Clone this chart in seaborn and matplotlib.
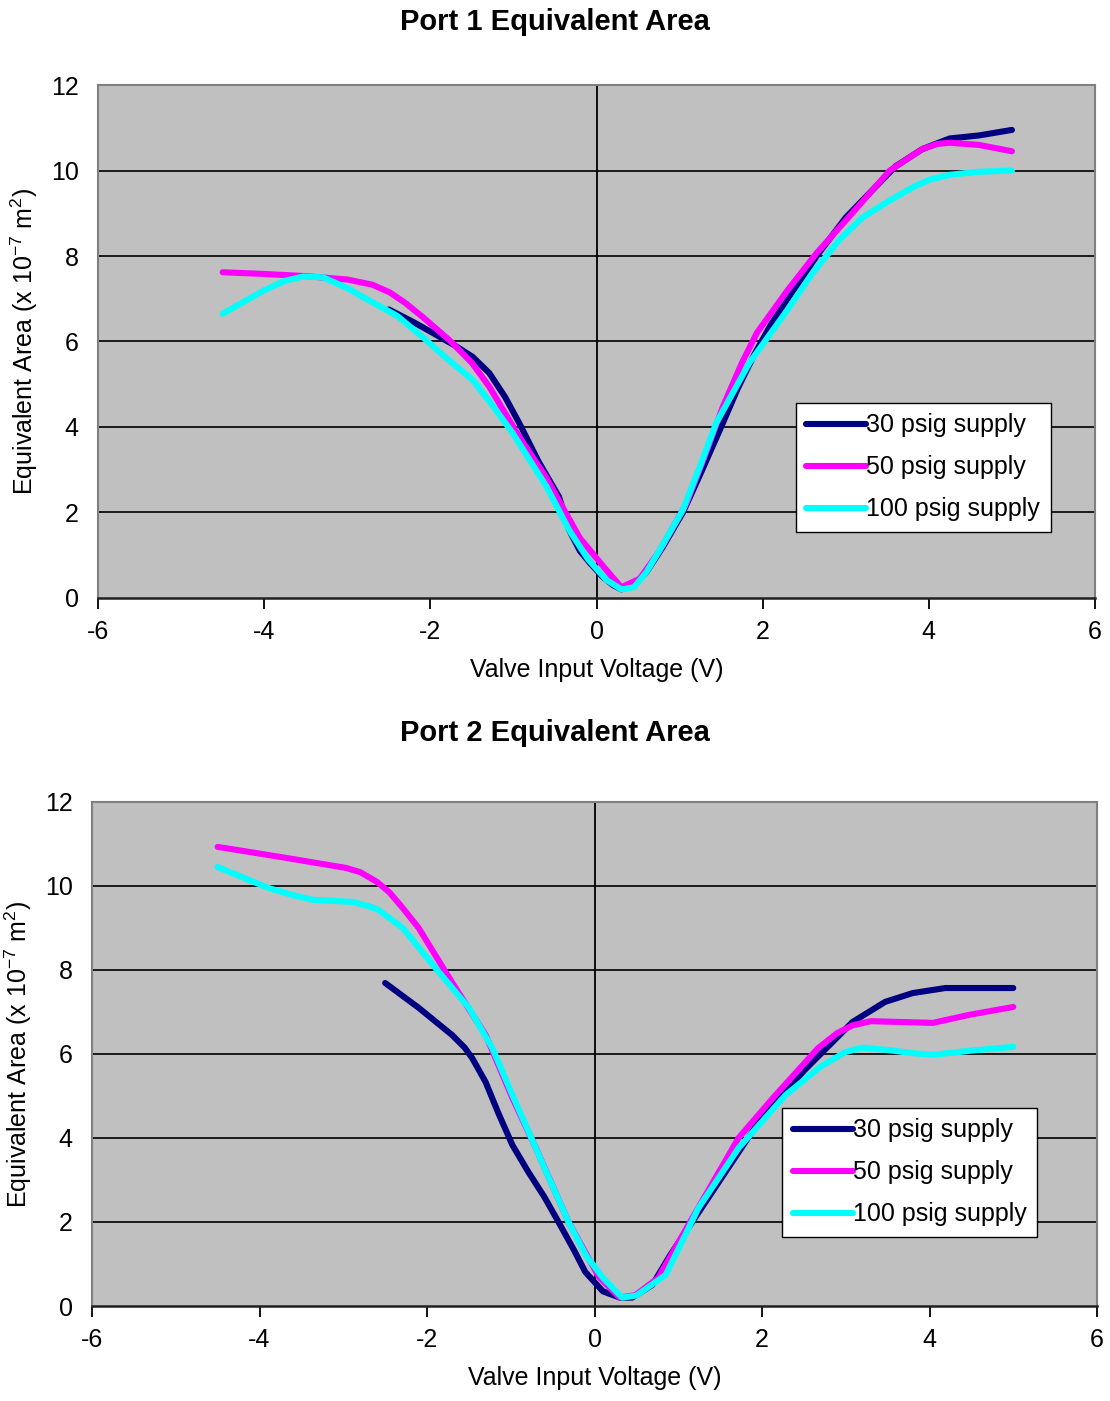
import numpy as np
import pandas as pd
import matplotlib
matplotlib.use("Agg")
import matplotlib.pyplot as plt
import seaborn as sns

# ---- data ----
series_labels = ["30 psig supply", "50 psig supply", "100 psig supply"]
series_colors = ["#000080", "#FF00FF", "#00FFFF"]

p1_30_x = [-2.5, -2.2, -1.97, -1.7, -1.49, -1.29, -1.1, -0.93, -0.7, -0.45, -0.33, -0.2, -0.08, 0.07, 0.2, 0.3, 0.45, 0.6, 0.8, 1.04, 1.25, 1.5, 1.7, 1.9, 2.1, 2.3, 2.65, 3.0, 3.3, 3.6, 3.92, 4.25, 4.6, 5.0]
p1_30_y = [6.75, 6.45, 6.2, 5.9, 5.64, 5.26, 4.7, 4.09, 3.2, 2.36, 1.59, 1.1, 0.82, 0.5, 0.3, 0.2, 0.3, 0.6, 1.2, 2.0, 2.9, 4.0, 4.9, 5.7, 6.4, 7.0, 8.0, 8.9, 9.5, 10.1, 10.5, 10.75, 10.82, 10.95]

p1_50_x = [-4.5, -4.0, -3.5, -3.0, -2.7, -2.49, -2.3, -2.09, -1.77, -1.5, -1.29, -0.93, -0.6, -0.41, -0.2, 0.12, 0.3, 0.52, 0.76, 1.08, 1.3, 1.52, 1.75, 1.93, 2.3, 2.65, 3.1, 3.53, 3.92, 4.1, 4.25, 4.6, 5.0]
p1_50_y = [7.62, 7.58, 7.53, 7.45, 7.33, 7.15, 6.9, 6.57, 6.03, 5.5, 4.94, 3.77, 2.8, 2.13, 1.4, 0.65, 0.25, 0.45, 1.1, 2.2, 3.3, 4.47, 5.5, 6.2, 7.2, 8.07, 9.05, 10.0, 10.5, 10.62, 10.65, 10.6, 10.45]

p1_100_x = [-4.5, -4.0, -3.75, -3.53, -3.29, -3.0, -2.81, -2.4, -2.09, -1.8, -1.49, -1.25, -1.01, -0.6, -0.33, -0.1, 0.12, 0.3, 0.45, 0.6, 0.8, 1.04, 1.25, 1.44, 1.84, 2.32, 2.6, 2.92, 3.2, 3.53, 3.8, 4.0, 4.25, 4.6, 5.0]
p1_100_y = [6.65, 7.2, 7.42, 7.52, 7.5, 7.25, 7.04, 6.6, 6.1, 5.6, 5.1, 4.5, 3.86, 2.6, 1.59, 0.9, 0.42, 0.2, 0.25, 0.6, 1.25, 2.06, 3.1, 4.09, 5.5, 6.8, 7.6, 8.37, 8.9, 9.3, 9.6, 9.78, 9.9, 9.97, 10.0]

p2_30_x = [-2.5, -2.1, -1.7, -1.55, -1.46, -1.3, -1.15, -0.98, -0.79, -0.6, -0.43, -0.25, -0.11, 0.1, 0.3, 0.45, 0.69, 0.9, 1.2, 1.6, 1.96, 2.5, 3.08, 3.47, 3.8, 4.19, 4.6, 5.0]
p2_30_y = [7.69, 7.1, 6.45, 6.15, 5.9, 5.33, 4.6, 3.83, 3.19, 2.6, 2.0, 1.35, 0.81, 0.35, 0.2, 0.2, 0.5, 1.2, 2.1, 3.3, 4.38, 5.6, 6.76, 7.24, 7.45, 7.57, 7.57, 7.57]

p2_50_x = [-4.5, -3.69, -2.97, -2.8, -2.6, -2.45, -2.3, -2.1, -1.7, -1.3, -0.98, -0.7, -0.31, 0.05, 0.3, 0.49, 0.76, 1.17, 1.72, 2.13, 2.67, 2.9, 3.08, 3.3, 3.68, 4.04, 4.47, 5.0]
p2_50_y = [10.93, 10.67, 10.43, 10.33, 10.1, 9.85, 9.5, 9.0, 7.7, 6.45, 4.95, 3.76, 2.0, 0.7, 0.2, 0.26, 0.67, 2.1, 4.0, 4.95, 6.14, 6.5, 6.68, 6.78, 6.76, 6.74, 6.93, 7.12]

p2_100_x = [-4.5, -3.89, -3.6, -3.37, -2.89, -2.7, -2.58, -2.29, -1.9, -1.5, -1.22, -0.98, -0.6, -0.31, -0.1, 0.1, 0.33, 0.5, 0.85, 1.24, 1.72, 2.28, 2.7, 3.0, 3.2, 3.47, 3.8, 4.04, 4.5, 5.0]
p2_100_y = [10.45, 9.95, 9.78, 9.67, 9.62, 9.52, 9.43, 9.0, 8.05, 7.1, 6.14, 5.02, 3.3, 2.0, 1.2, 0.67, 0.2, 0.25, 0.74, 2.33, 3.76, 5.02, 5.7, 6.05, 6.15, 6.1, 6.02, 5.98, 6.08, 6.17]

titles = ["Port 1 Equivalent Area", "Port 2 Equivalent Area"]
x_label = "Valve Input Voltage (V)"
y_label = r"Equivalent Area (x 10$^{-7}$ m$^{2}$)"
x_ticks = [-6, -4, -2, 0, 2, 4, 6]
y_ticks = [0, 2, 4, 6, 8, 10, 12]

panels = [
    [(p1_30_x, p1_30_y), (p1_50_x, p1_50_y), (p1_100_x, p1_100_y)],
    [(p2_30_x, p2_30_y), (p2_50_x, p2_50_y), (p2_100_x, p2_100_y)],
]

# ---- style ----
sns.set_theme(style="white")
plt.rcParams["font.family"] = ["Liberation Sans", "DejaVu Sans"]
plt.rcParams["mathtext.fontset"] = "custom"
plt.rcParams["mathtext.rm"] = "Liberation Sans"
plt.rcParams["mathtext.it"] = "Liberation Sans"
plt.rcParams["mathtext.default"] = "regular"
plt.rcParams["text.color"] = "black"
plt.rcParams["axes.labelcolor"] = "black"
plt.rcParams["xtick.color"] = "black"
plt.rcParams["ytick.color"] = "black"

FS = 18

fig = plt.figure(figsize=(11.10, 14.01), dpi=100)
axes_rects = [
    [0.0883, 0.5732, 0.8982, 0.3661],
    [0.0829, 0.0678, 0.9054, 0.3598],
]
legend_anchor = [(0.700, 0.129), (0.687, 0.137)]
title_y = [1401 - 22, 1401 - 733]

for i, rect in enumerate(axes_rects):
    ax = fig.add_axes(rect)
    ax.set_facecolor("#C0C0C0")
    for j, (xs, ys) in enumerate(panels[i]):
        df = pd.DataFrame({"x": xs, "y": ys})
        sns.lineplot(data=df, x="x", y="y", ax=ax, color=series_colors[j],
                     linewidth=4.4, sort=False, label=series_labels[j],
                     solid_capstyle="round", solid_joinstyle="round", zorder=3 + j)
    ax.set_xlim(-6, 6)
    ax.set_ylim(0, 12)
    ax.set_xticks(x_ticks)
    ax.set_yticks(y_ticks)
    ax.set_xticklabels([str(t) for t in x_ticks], fontsize=FS)
    ax.set_yticklabels([str(t) for t in y_ticks], fontsize=FS)
    ax.tick_params(axis="x", direction="out", length=8, width=1.3, color="black",
                   bottom=True, pad=8)
    ax.tick_params(axis="y", length=0, pad=14)
    for t in y_ticks[1:-1]:
        ax.axhline(t, color="#1a1a1a", linewidth=1.4, zorder=1)
    ax.axvline(0, color="black", linewidth=1.3, zorder=1)
    for side in ["top", "right", "left"]:
        ax.spines[side].set_color("#808080")
        ax.spines[side].set_linewidth(1.5)
    ax.spines["bottom"].set_color("#202020")
    ax.spines["bottom"].set_linewidth(1.8)
    ax.set_xlabel(x_label, fontsize=FS, labelpad=10)
    ax.set_ylabel(y_label, fontsize=FS, labelpad=8)
    fig.text(0.5, title_y[i] / 1401, titles[i], ha="center", va="center",
             fontsize=21, fontweight="bold")
    leg = ax.legend(loc="lower left", bbox_to_anchor=legend_anchor[i],
                    borderaxespad=0, fontsize=FS, frameon=True, fancybox=False,
                    handlelength=2.4, handletextpad=0.0, labelspacing=0.72,
                    borderpad=0.42, framealpha=1)
    leg.get_frame().set_edgecolor("black")
    leg.get_frame().set_linewidth(1.0)
    for line in leg.get_lines():
        line.set_linewidth(4.4)

fig.savefig("out.png", dpi=100)
